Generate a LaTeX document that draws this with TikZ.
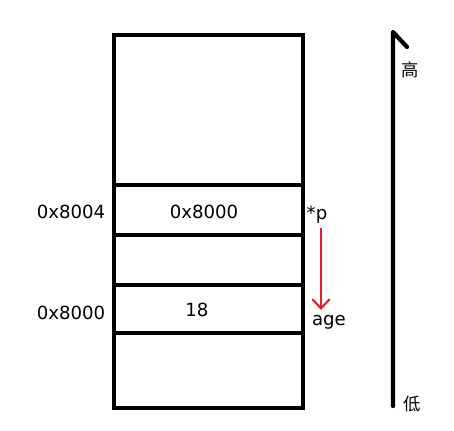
\documentclass[tikz,border=0pt]{standalone}
\usepackage{fontspec}
\setmainfont{DejaVu Sans}
\newfontfamily\cjk{Noto Sans CJK SC}
\usetikzlibrary{arrows.meta}
\begin{document}
\begin{tikzpicture}[x=0.75pt,y=-0.75pt,
  cell/.style={draw=black,line width=3pt,minimum width=189*0.75pt,inner sep=0pt,outer sep=0pt,anchor=north west},
  lbl/.style={font=\fontsize{13.6}{16}\selectfont,inner sep=0pt},
  zh/.style={font=\cjk\fontsize{13}{15}\selectfont,inner sep=0pt},
  ptr/.style={draw={rgb,255:red,230;green,30;blue,40},line width=1.6pt,-{Straight Barb[length=7pt,width=13pt,line width=1.6pt]}},
  axis/.style={draw=black,line width=3.2pt,line cap=round,line join=round}]
\useasboundingbox (0,0) rectangle (454,430);
% memory cells
\node[cell,minimum height=150*0.75pt] (c1) at (114,35) {};
\node[cell,minimum height=50*0.75pt] (c2) at (114,185) {};
\node[cell,minimum height=50*0.75pt] (c3) at (114,235) {};
\node[cell,minimum height=48*0.75pt] (c4) at (114,285) {};
\node[cell,minimum height=75*0.75pt] (c5) at (114,333) {};
% texts
\node[lbl] (a1) at (71,212) {0x8004};
\node[lbl] (v1) at (204,212) {0x8000};
\node[lbl] (a2) at (71,313) {0x8000};
\node[lbl] (v2) at (197,310) {18};
\node[lbl] (p) at (317,215) {*p};
\node[lbl] (age) at (329,322) {age};
\coordinate (ps) at (321,228);
\coordinate (pe) at (321,310);
\draw[ptr] (ps) -- (pe);
% axis
\coordinate (lo) at (393,406);
\coordinate (hi) at (393,32);
\coordinate (barb) at (407,47);
\draw[axis] (lo) -- (hi) -- (barb);
\node[zh] (high) at (410,70) {高};
\node[zh] (low) at (412,404) {低};
\end{tikzpicture}
\end{document}
